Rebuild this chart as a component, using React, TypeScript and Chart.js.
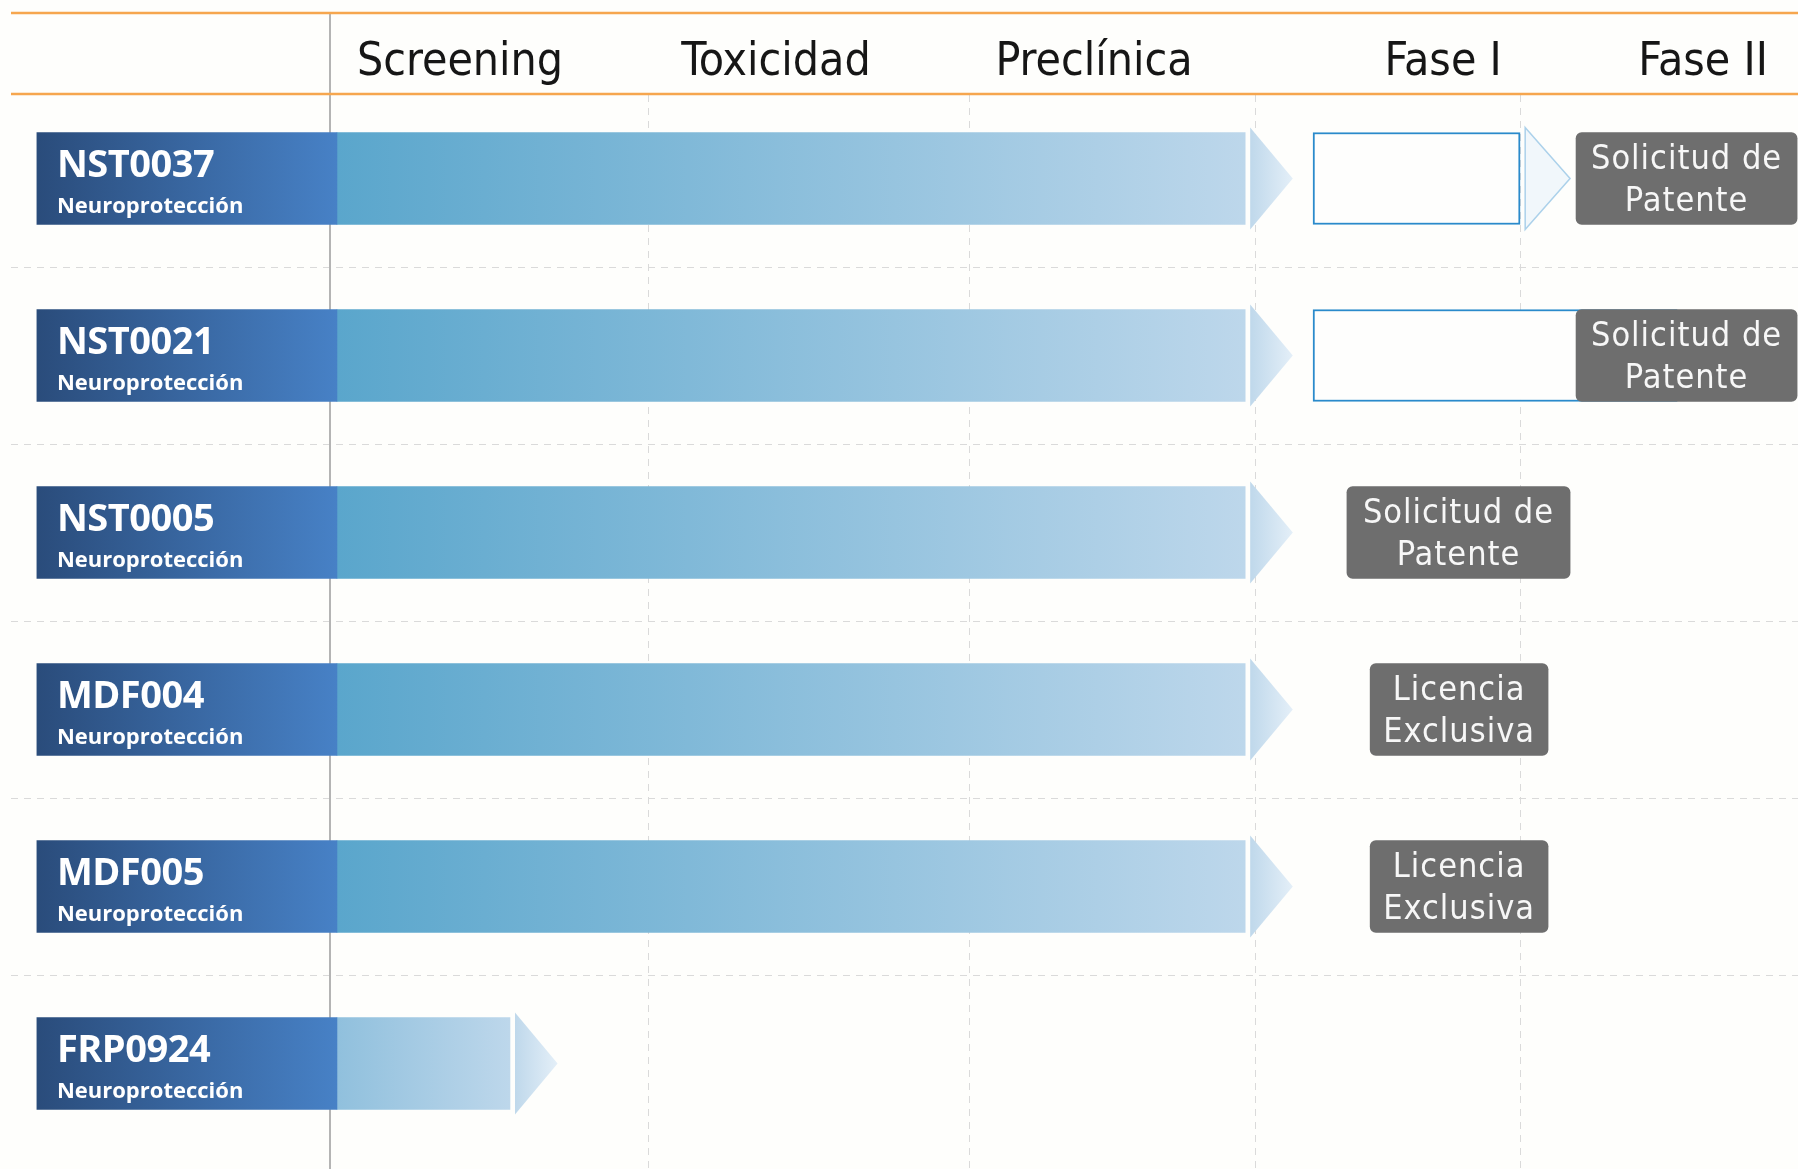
import React, { useEffect, useRef } from 'react';
import { Chart, registerables } from 'chart.js';

Chart.register(...registerables);

// ---- data ----
const PROJECTS = ['NST0037', 'NST0021', 'NST0005', 'MDF004', 'MDF005', 'FRP0924'];
const AREAS = ['Neuroprotección', 'Neuroprotección', 'Neuroprotección', 'Neuroprotección', 'Neuroprotección', 'Neuroprotección'];
const STAGES = ['Screening', 'Toxicidad', 'Preclínica', 'Fase I', 'Fase II'];
// x in "stage units": 0 = start of Screening, 4 = start of Fase II
const STAGE_LABEL_POS = [0.437, 1.499, 2.568, 3.741, 4.615];
const STAGE_BOUNDS = [1.069, 2.148, 3.109, 4.0];
const LABEL_SPAN: [number, number] = [-0.985, 0.0235];
const PROGRESS_START = 0.0235;
const PROGRESS_END = [3.076, 3.076, 3.076, 3.076, 3.076, 0.605];
const ARROW_LEN = 0.16;
const NEXT_BOX: ([number, number] | null)[] = [[3.304, 4.0], [3.304, 4.528], null, null, null, null];
const NEXT_ARROW: ([number, number] | null)[] = [[4.017, 4.168], null, null, null, null, null];
const STATUS_BOX: ([number, number] | null)[] = [[4.188, 4.931], [4.188, 4.931], [3.418, 4.168], [3.496, 4.094], [3.496, 4.094], null];
const STATUS_TEXT: (string[] | null)[] = [
  ['Solicitud de', 'Patente'],
  ['Solicitud de', 'Patente'],
  ['Solicitud de', 'Patente'],
  ['Licencia', 'Exclusiva'],
  ['Licencia', 'Exclusiva'],
  null,
];
const X_MIN = -1.109;
const X_MAX = 4.934;

const COND = "'DejaVu Sans Condensed', 'DejaVu Sans', sans-serif";
const SANS = "'Open Sans', 'Noto Sans', sans-serif";

function hGrad(chart: any, raw: any, c0: string, c1: string, fallback: string) {
  if (!raw || !chart.chartArea) return fallback;
  const xs = chart.scales.x;
  const x0 = xs.getPixelForValue(raw[0]);
  const x1 = xs.getPixelForValue(raw[1]);
  const g = chart.ctx.createLinearGradient(x0, 0, x1, 0);
  g.addColorStop(0, c0);
  g.addColorStop(1, c1);
  return g;
}

const decor = {
  id: 'decor',
  beforeDraw(chart: any) {
    const { ctx } = chart;
    ctx.save();
    ctx.fillStyle = '#fefefc';
    ctx.fillRect(0, 0, chart.width, chart.height);
    ctx.restore();
  },
  beforeDatasetsDraw(chart: any) {
    const { ctx, chartArea } = chart;
    const xs = chart.scales.x;
    const ys = chart.scales.y;
    const line = (x1: number, y1: number, x2: number, y2: number) => {
      ctx.beginPath();
      ctx.moveTo(x1, y1);
      ctx.lineTo(x2, y2);
      ctx.stroke();
    };
    ctx.save();
    const step = ys.getPixelForValue(1) - ys.getPixelForValue(0);
    ctx.strokeStyle = '#dadada';
    ctx.lineWidth = 1;
    ctx.setLineDash([7, 6]);
    for (let i = 0; i < PROJECTS.length - 1; i++) {
      const y = Math.round(ys.getPixelForValue(i) + step / 2) + 0.5;
      line(11, y, chartArea.right, y);
    }
    for (const b of STAGE_BOUNDS) {
      const x = Math.round(xs.getPixelForValue(b)) + 0.5;
      line(x, chartArea.top + 5, x, chart.height);
    }
    ctx.setLineDash([]);
    // solid start line
    const x0 = Math.round(xs.getPixelForValue(0));
    ctx.strokeStyle = '#b4b4b4';
    ctx.lineWidth = 2;
    line(x0, chartArea.top - 77, x0, chart.height);
    // orange header rules
    ctx.strokeStyle = '#f6a64e';
    ctx.lineWidth = 2.5;
    line(11, chartArea.top - 77, chartArea.right, chartArea.top - 77);
    line(11, chartArea.top + 4, chartArea.right, chartArea.top + 4);
    // stage headers
    ctx.fillStyle = '#161616';
    ctx.font = `46px ${COND}`;
    ctx.textAlign = 'center';
    ctx.textBaseline = 'alphabetic';
    STAGES.forEach((s, i) => {
      ctx.fillText(s, xs.getPixelForValue(STAGE_LABEL_POS[i]), chartArea.top - 15);
    });
    ctx.restore();
  },
  afterDatasetsDraw(chart: any) {
    const { ctx } = chart;
    const xs = chart.scales.x;
    const ys = chart.scales.y;
    ctx.save();
    // arrow heads of progress bars
    const progMeta = chart.getDatasetMeta(1);
    PROGRESS_END.forEach((end, i) => {
      const el: any = progMeta.data[i];
      if (!el) return;
      const y = el.y;
      const h = el.height / 2 + 5;
      const bx = el.x + 5;
      const tip = xs.getPixelForValue(end + ARROW_LEN);
      const g = ctx.createLinearGradient(bx, 0, tip, 0);
      g.addColorStop(0, '#bfd8eb');
      g.addColorStop(1, '#e4eff8');
      ctx.fillStyle = g;
      ctx.beginPath();
      ctx.moveTo(bx, y - h);
      ctx.lineTo(tip, y);
      ctx.lineTo(bx, y + h);
      ctx.closePath();
      ctx.fill();
    });
    // outline chevrons
    NEXT_ARROW.forEach((a, i) => {
      if (!a) return;
      const y = ys.getPixelForValue(i);
      const h = 51;
      const bx = xs.getPixelForValue(a[0]);
      const tip = xs.getPixelForValue(a[1]);
      ctx.beginPath();
      ctx.moveTo(bx, y - h);
      ctx.lineTo(tip, y);
      ctx.lineTo(bx, y + h);
      ctx.closePath();
      ctx.fillStyle = 'rgba(228,240,249,0.5)';
      ctx.fill();
      ctx.strokeStyle = 'rgba(110,175,220,0.55)';
      ctx.lineWidth = 1.5;
      ctx.stroke();
    });
    // label texts
    const lx = xs.getPixelForValue(LABEL_SPAN[0]) + 20;
    ctx.fillStyle = '#ffffff';
    ctx.textAlign = 'left';
    ctx.textBaseline = 'alphabetic';
    PROJECTS.forEach((p, i) => {
      const y = ys.getPixelForValue(i);
      ctx.font = `700 38px ${SANS}`;
      (ctx as any).letterSpacing = '-0.5px';
      ctx.fillText(p, lx, y - 2);
      (ctx as any).letterSpacing = '0px';
      ctx.font = `700 22px ${SANS}`;
      ctx.fillText(AREAS[i], lx, y + 34);
    });
    // status texts
    const stMeta = chart.getDatasetMeta(0);
    ctx.fillStyle = '#f7f7f7';
    ctx.textAlign = 'center';
    ctx.font = `34px ${COND}`;
    (ctx as any).letterSpacing = '1px';
    STATUS_TEXT.forEach((lines, i) => {
      if (!lines) return;
      const el: any = stMeta.data[i];
      const r = STATUS_BOX[i]!;
      const cx = (xs.getPixelForValue(r[0]) + xs.getPixelForValue(r[1])) / 2;
      const y = el ? el.y : ys.getPixelForValue(i);
      ctx.fillText(lines[0], cx, y - 10);
      ctx.fillText(lines[1], cx, y + 32);
    });
    (ctx as any).letterSpacing = '0px';
    ctx.restore();
  },
};

export default function App() {
  const ref = useRef<HTMLCanvasElement>(null);
  useEffect(() => {
    if (!ref.current) return;
    const chart = new Chart(ref.current, {
      type: 'bar',
      data: {
        labels: PROJECTS,
        datasets: [
          {
            label: 'Estado',
            data: STATUS_BOX as any,
            backgroundColor: '#6e6e6e',
            borderRadius: 6,
            borderSkipped: false,
            order: 1,
          } as any,
          {
            label: 'Progreso',
            data: PROGRESS_END.map((e) => [PROGRESS_START, e]) as any,
            backgroundColor: (c: any) =>
              hGrad(c.chart, c.raw, c.raw && c.raw[1] - c.raw[0] < 1 ? '#90c0dd' : '#5aa6cc', '#bdd7eb', '#8bbcdb'),
            borderWidth: 0,
            order: 4,
          } as any,
          {
            label: 'Proyecto',
            data: PROJECTS.map(() => LABEL_SPAN) as any,
            backgroundColor: (c: any) => hGrad(c.chart, c.raw, '#2a4c7b', '#4781c6', '#3a66a0'),
            borderWidth: 0,
            order: 3,
          } as any,
          {
            label: 'Siguiente fase',
            data: NEXT_BOX as any,
            backgroundColor: '#fefefd',
            borderColor: '#2a8acb',
            borderWidth: 2,
            borderSkipped: false,
            order: 2,
          } as any,
        ],
      },
      options: {
        indexAxis: 'y',
        animation: false,
        responsive: false,
        devicePixelRatio: 1,
        layout: { padding: { top: 90, bottom: 17, left: 0, right: 0 } },
        datasets: { bar: { grouped: false, barThickness: 92 } } as any,
        scales: {
          x: { type: 'linear', min: X_MIN, max: X_MAX, display: false },
          y: { type: 'category', display: false, offset: true },
        },
        plugins: { legend: { display: false }, tooltip: { enabled: false } },
      } as any,
      plugins: [decor],
    });
    return () => chart.destroy();
  }, []);
  return (
    <div style={{ position: 'absolute', left: 0, top: 0, width: 1798, height: 1169 }}>
      <canvas ref={ref} width={1798} height={1169} style={{ width: 1798, height: 1169, display: 'block' }} />
    </div>
  );
}
